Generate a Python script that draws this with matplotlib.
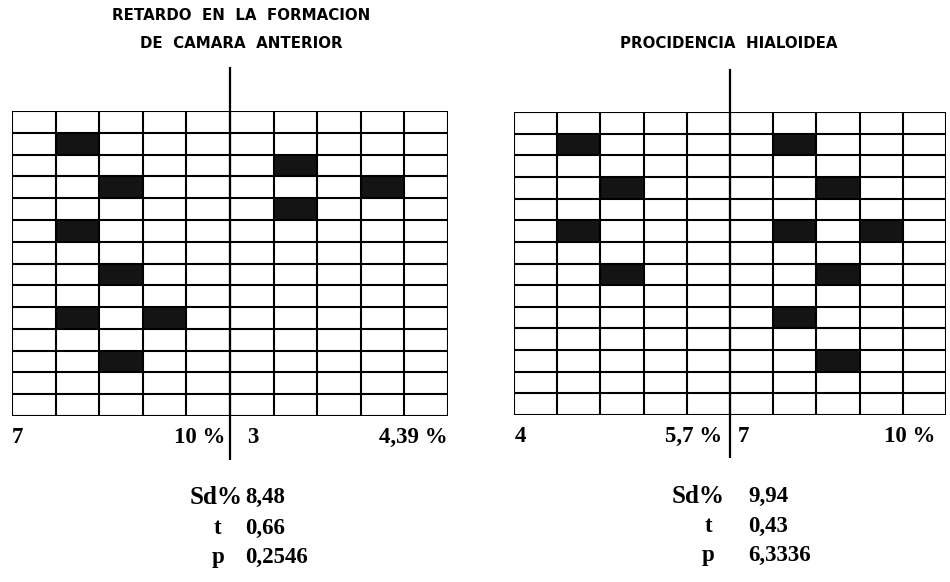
import numpy as np
import matplotlib
matplotlib.use('Agg')
import matplotlib.pyplot as plt
from matplotlib.colors import ListedColormap

# grid size (rows x cols) and shaded cells (row, col), row 0 at top
n_rows, n_cols = 14, 10
left_cells = [(1, 1), (2, 6), (3, 2), (3, 8), (4, 6), (5, 1), (7, 2), (9, 1), (9, 3), (11, 2)]
right_cells = [(1, 1), (1, 6), (3, 2), (3, 7), (5, 1), (5, 6), (5, 8), (7, 2), (7, 7), (9, 6), (11, 7)]

left_title = ['RETARDO  EN  LA  FORMACION', 'DE  CAMARA  ANTERIOR']
right_title = ['PROCIDENCIA  HIALOIDEA']

left_bottom = ['7', '10 %', '3', '4,39 %']
right_bottom = ['4', '5,7 %', '7', '10 %']

stat_names = ['Sd%', 't', 'p']
left_stats = ['8,48', '0,66', '0,2546']
right_stats = ['9,94', '0,43', '6,3336']

W, H = 950, 582
fig = plt.figure(figsize=(W / 100, H / 100), dpi=100)

def px_axes(x0, y0, x1, y1):
    return fig.add_axes([x0 / W, 1 - y1 / H, (x1 - x0) / W, (y1 - y0) / H])

serif = ['Liberation Serif', 'DejaVu Serif']
sans = ['DejaVu Sans']

def draw_panel(ax, cells, bottom, stats, bx, sx):
    grid = np.zeros((n_rows, n_cols))
    for r, c in cells:
        grid[r, c] = 1
    ax.pcolormesh(np.arange(n_cols + 1), np.arange(n_rows + 1), grid,
                  cmap=ListedColormap(['white', '#141414']), vmin=0, vmax=1)
    ax.vlines(np.arange(n_cols + 1), 0, n_rows, color='black', lw=1.5)
    ax.hlines(np.arange(n_rows + 1), 0, n_cols, color='black', lw=1.5)
    ax.vlines(5, -2, 16, color='black', lw=1.6, clip_on=False)
    ax.set_xlim(0, n_cols)
    ax.set_ylim(n_rows, 0)
    ax.axis('off')
    # values under the grid
    has = ['left', 'right', 'left', 'right']
    for x, s, ha in zip(bx, bottom, has):
        ax.text(x, 15.0, s, ha=ha, va='center', fontsize=16.5, fontweight='bold',
                family=serif, clip_on=False)
    # statistics block
    ys = [17.75, 19.15, 20.5]
    for i, (name, val) in enumerate(zip(stat_names, stats)):
        if i == 0:
            ax.text(sx[0], ys[i], name, ha='right', va='center', fontsize=18,
                    fontweight='bold', family=serif, clip_on=False)
        else:
            ax.text(sx[1], ys[i], name, ha='center', va='center', fontsize=16.5,
                    fontweight='bold', family=serif, clip_on=False)
        ax.text(sx[2], ys[i], val, ha='left', va='center', fontsize=16.5,
                fontweight='bold', family=serif, clip_on=False)

ax1 = px_axes(12, 111, 448, 416)
draw_panel(ax1, left_cells, left_bottom, left_stats,
           [0.0, 4.89, 5.39, 9.98], [5.28, 4.72, 5.34])

ax2 = px_axes(514, 112, 946, 415)
draw_panel(ax2, right_cells, right_bottom, right_stats,
           [0.02, 4.81, 5.19, 9.75], [4.88, 4.49, 5.42])

for i, s in enumerate(left_title):
    fig.text(241 / W, 1 - (15 + 28 * i) / H, s, ha='center', va='center',
             fontsize=10.8, fontweight='bold', family=sans)
fig.text(729 / W, 1 - 43 / H, right_title[0], ha='center', va='center',
         fontsize=10.8, fontweight='bold', family=sans)

fig.savefig('out.png', dpi=100)
